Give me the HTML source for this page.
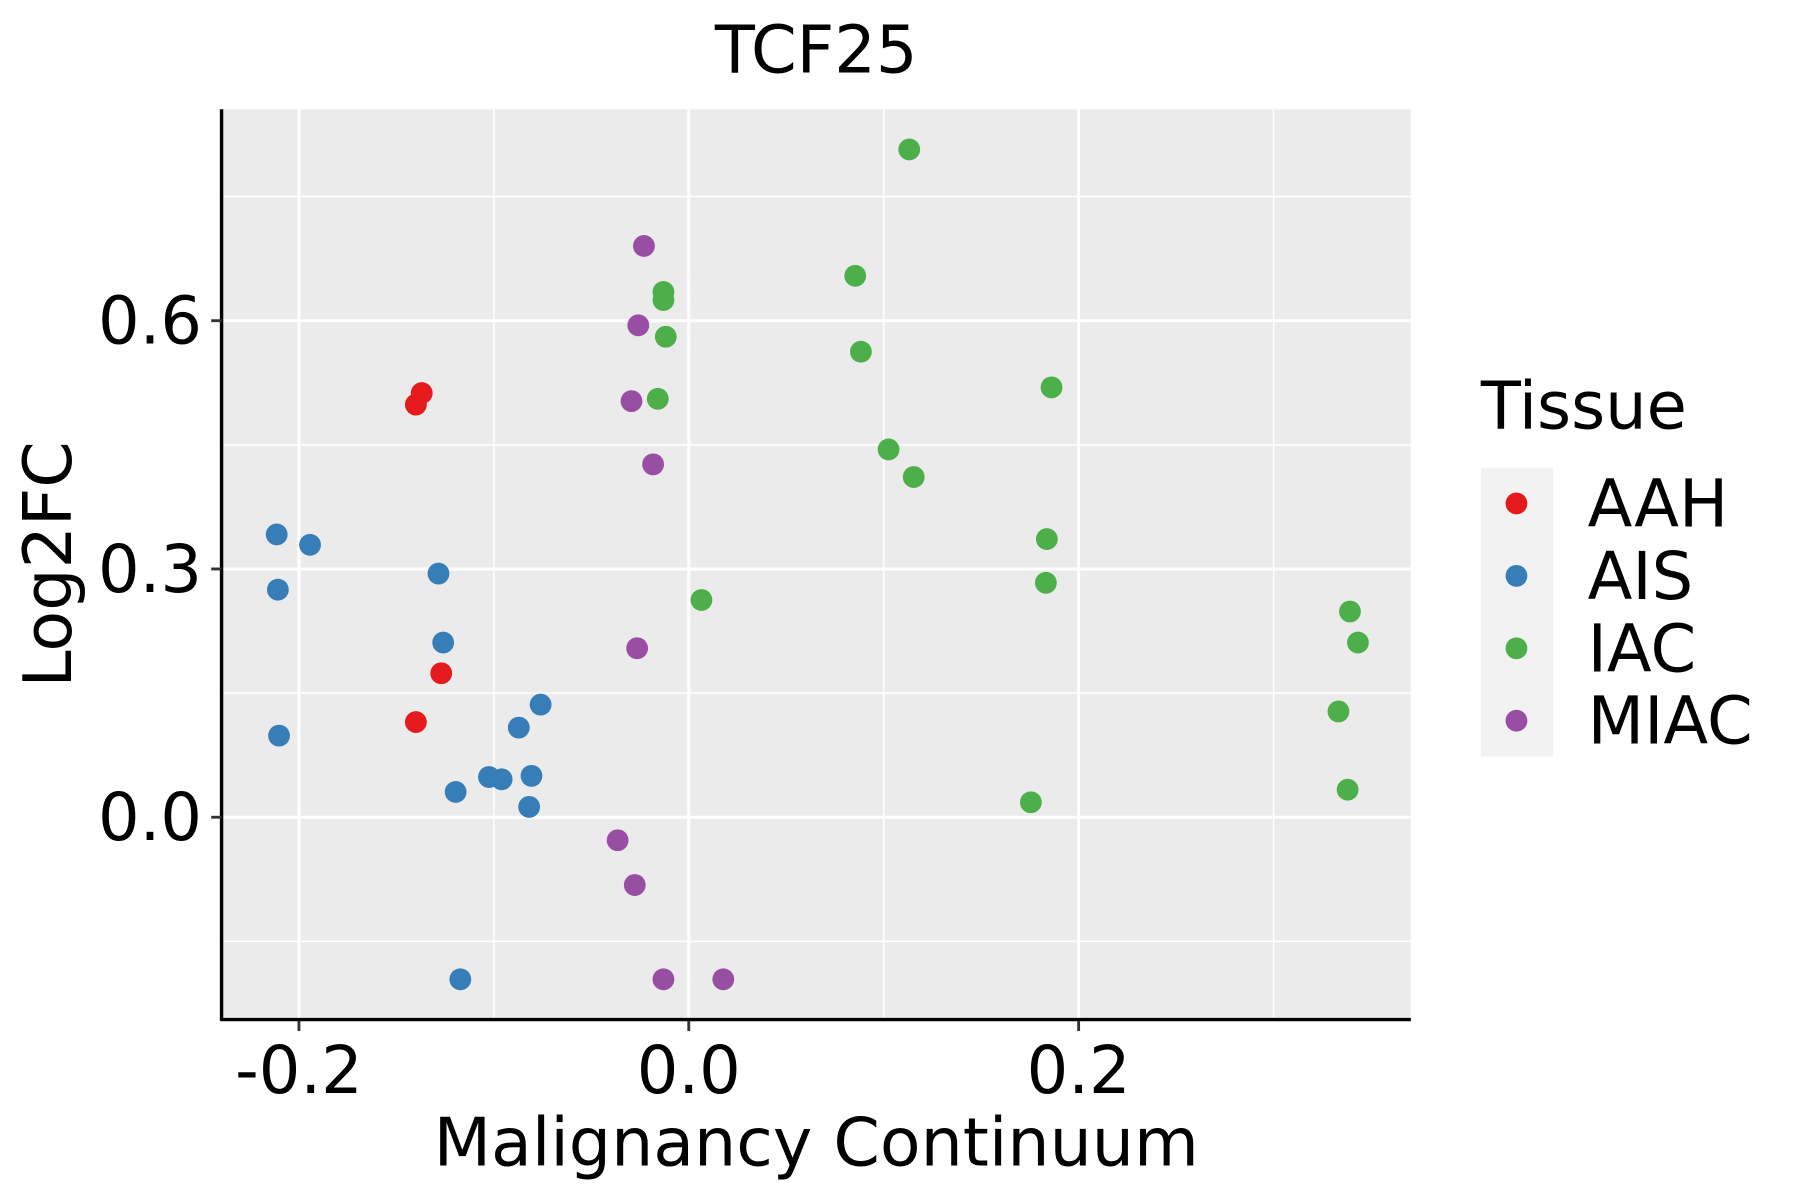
<!DOCTYPE html>
<html><head><meta charset="utf-8"><style>html,body{margin:0;padding:0;background:#fff}svg{display:block}text{font-family:"DejaVu Sans","Liberation Sans",sans-serif}</style></head>
<body>
<svg id="chart" width="1800" height="1200" viewBox="0 0 1568 1044" preserveAspectRatio="none" xmlns="http://www.w3.org/2000/svg">
<rect width="1568" height="1044" fill="#fff"/>
<rect x="193" y="95" width="1036" height="792" fill="#ebebeb"/>
<g id="grid"></g>
<g id="points"></g>
<line x1="193" y1="95" x2="193" y2="888" stroke="#000" stroke-width="3"/>
<line x1="192" y1="887" x2="1229" y2="887" stroke="#000" stroke-width="3"/>
<g id="ticks"></g>
<text x="711" y="63" font-size="57" text-anchor="middle">TCF25</text>
<text x="711" y="1014" font-size="58" text-anchor="middle">Malignancy Continuum</text>
<text transform="translate(62,491) rotate(-90)" font-size="58" text-anchor="middle">Log2FC</text>
<g>
<text x="1290" y="373" font-size="57">Tissue</text>
<rect x="1290" y="407" width="63" height="251" fill="#f2f2f2"/>
<g id="legend-entries"></g>
</g>
</svg>
<script>
const categories = ["AAH","AIS","IAC","MIAC"];
const colors = ["#e41a1c","#377eb8","#4daf4a","#984ea3"];
const aahX = [-0.137,-0.140,-0.127,-0.140];
const aahY = [0.5125,0.4986,0.174,0.115];
const aisX = [-0.2114,-0.1943,-0.2108,-0.1284,-0.1260,-0.2102,-0.0760,-0.0872,-0.0807,-0.1025,-0.0960,-0.1196,-0.0819,-0.1172];
const aisY = [0.3417,0.3292,0.275,0.2944,0.2111,0.0986,0.1361,0.1083,0.05,0.0486,0.0458,0.0306,0.0125,-0.1958];
const iacX = [0.1131,0.0854,-0.0130,-0.0130,-0.0118,0.0883,0.1861,-0.0159,0.1025,0.1154,0.1837,0.1832,0.0065,0.3392,0.3433,0.3333,0.3380,0.1755];
const iacY = [0.8069,0.6542,0.6347,0.625,0.5806,0.5625,0.5194,0.5056,0.4444,0.4111,0.3361,0.2833,0.2625,0.2486,0.2111,0.1278,0.0333,0.0181];
const miacX = [-0.0230,-0.0259,-0.0294,-0.0183,-0.0265,-0.0365,-0.0277,-0.0130,0.0177];
const miacY = [0.6903,0.5944,0.5028,0.4264,0.2042,-0.0278,-0.0819,-0.1958,-0.1958];
const xTicks = [-0.2,0.0,0.2];
const xTickLabels = ["-0.2","0.0","0.2"];
const xMinor = [-0.1,0.1,0.3];
const yTicks = [0.0,0.3,0.6];
const yTickLabels = ["0.0","0.3","0.6"];
const yMinor = [-0.15,0.15,0.45,0.75];

const NS="http://www.w3.org/2000/svg";
function sx(v){return 600+v*1698;}
function sy(v){return 711-v*720;}
function mk(tag,attrs,parent){const e=document.createElementNS(NS,tag);for(const k in attrs)e.setAttribute(k,attrs[k]);parent.appendChild(e);return e;}
const grid=document.getElementById('grid');
xMinor.forEach(v=>{const l=mk('line',{x1:sx(v),x2:sx(v),y1:95,y2:887,stroke:'#fff','stroke-width':1.3},grid);

});
yMinor.forEach(v=>{const l=mk('line',{x1:193,x2:1229,y1:sy(v),y2:sy(v),stroke:'#fff','stroke-width':1.3},grid);

});
xTicks.forEach(v=>{const l=mk('line',{x1:sx(v),x2:sx(v),y1:95,y2:887,stroke:'#fff','stroke-width':2.6},grid);

});
yTicks.forEach(v=>{const l=mk('line',{x1:193,x2:1229,y1:sy(v),y2:sy(v),stroke:'#fff','stroke-width':2.6},grid);

});
const ticks=document.getElementById('ticks');
xTicks.forEach((v,i)=>{const l=mk('line',{x1:sx(v),x2:sx(v),y1:888,y2:897,stroke:'#333','stroke-width':2.5},ticks);


const t=mk('text',{x:sx(v),y:951,'font-size':57,'text-anchor':'middle'},ticks);t.textContent=xTickLabels[i];

});
yTicks.forEach((v,i)=>{const l=mk('line',{x1:184,x2:193,y1:sy(v),y2:sy(v),stroke:'#333','stroke-width':2.5},ticks);


const t=mk('text',{x:176,y:sy(v)+20,'font-size':57,'text-anchor':'end'},ticks);t.textContent=yTickLabels[i];

});
const pts=document.getElementById('points');
const series=[[aahX,aahY],[aisX,aisY],[iacX,iacY],[miacX,miacY]];
series.forEach((s,ci)=>{s[0].forEach((x,i)=>{const c=mk('circle',{cx:sx(x),cy:sy(s[1][i]),r:9.5,fill:colors[ci]},pts);

});});
const le=document.getElementById('legend-entries');
categories.forEach((c,i)=>{const y=438+i*63;
const d=mk('circle',{cx:1321,cy:y,r:9.5,fill:colors[i]},le);


const t=mk('text',{x:1383,y:y+20,'font-size':57},le);t.textContent=c;

});
</script>
</body></html>
